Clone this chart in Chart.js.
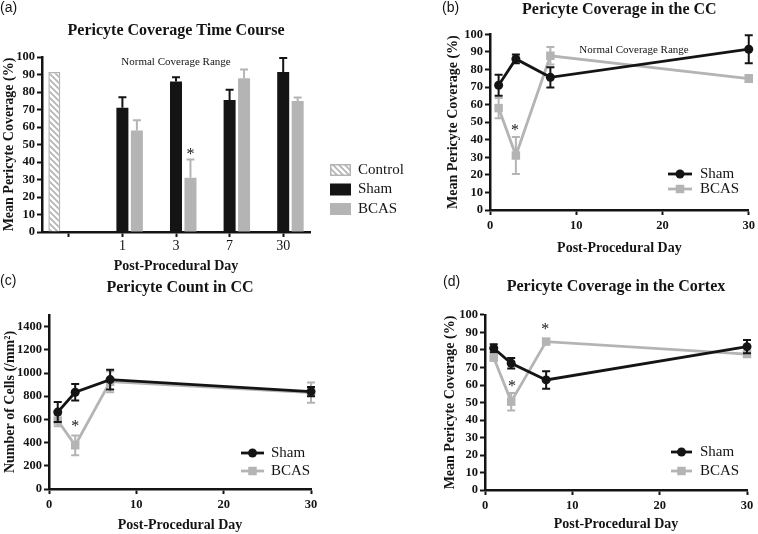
<!DOCTYPE html>
<html>
<head>
<meta charset="utf-8">
<script src="https://cdn.jsdelivr.net/npm/chart.js@4/dist/chart.umd.min.js"></script>
<style>
  html, body { margin: 0; padding: 0; background: #fff; }
  #wrap { position: relative; width: 758px; height: 534px; overflow: hidden; }
  canvas { position: absolute; }
</style>
</head>
<body>
<div id="wrap">
  <canvas id="chartA" width="440" height="275" style="left:0;top:0"></canvas>
  <canvas id="chartB" width="318" height="265" style="left:440px;top:0"></canvas>
  <canvas id="chartC" width="380" height="266" style="left:0;top:268px"></canvas>
  <canvas id="chartD" width="378" height="266" style="left:380px;top:268px"></canvas>
</div>
<script>
// data
const days = [1, 3, 7, 30];
const dayLabels = ["", "1", "3", "7", "30"];
const countTicks = [0, 200, 400, 600, 800, 1000, 1200, 1400];
const controlCoverage = 91.5;

const ccSham = [71, 86, 75.5, 91.5];
const ccShamErr = [6, 2.5, 5.8, 8];
const ccBcas = [58, 31, 87.8, 74.8];
const ccBcasErr = [5.8, 10.5, 5, 2];

const countSham = [663, 834, 943, 840];
const countShamErr = [86, 71, 86, 40];
const countBcas = [590, 377, 925, 831];
const countBcasErr = [50, 85, 90, 88];

const ctxSham = [81, 72.4, 62.9, 81.9];
const ctxShamErr = [2.3, 3, 5, 3.8];
const ctxBcas = [75.6, 50.5, 84.8, 77.7];
const ctxBcasErr = [1, 5, 1, 1];

const SERIF = '"Liberation Serif", "Times New Roman", serif';
const SANS = '"Liberation Sans", Arial, sans-serif';
const INK = "#141414";
const GREY = "#b4b4b4";

// error bars drawn under each dataset
const errorBars = {
  id: "errorBars",
  beforeDatasetDraw(chart, args) {
    const ds = chart.data.datasets[args.index];
    if (!ds.errors) return;
    const y = chart.scales.y;
    const ctx = chart.ctx;
    ctx.save();
    ctx.strokeStyle = ds.borderColor;
    ctx.lineWidth = 2;
    args.meta.data.forEach((el, i) => {
      const raw = ds.data[i];
      const e = ds.errors[i];
      if (raw == null || e == null) return;
      const v = typeof raw === "object" ? raw.y : raw;
      const top = y.getPixelForValue(v + e);
      const bot = ds.upperOnly ? y.getPixelForValue(v) : y.getPixelForValue(v - e);
      const cap = 4;
      ctx.beginPath();
      ctx.moveTo(el.x, top); ctx.lineTo(el.x, bot);
      ctx.moveTo(el.x - cap, top); ctx.lineTo(el.x + cap, top);
      if (!ds.upperOnly) { ctx.moveTo(el.x - cap, bot); ctx.lineTo(el.x + cap, bot); }
      ctx.stroke();
    });
    ctx.restore();
  }
};

// text placed in data coordinates (asterisks, range note)
const notes = {
  id: "notes",
  afterDatasetsDraw(chart, args, o) {
    const ctx = chart.ctx;
    (o.items || []).forEach(n => {
      ctx.save();
      ctx.font = n.css;
      ctx.fillStyle = INK;
      ctx.textAlign = "center";
      ctx.textBaseline = "middle";
      ctx.fillText(n.text, chart.scales.x.getPixelForValue(n.x), chart.scales.y.getPixelForValue(n.y));
      ctx.restore();
    });
  }
};

const panelLabel = {
  id: "panelLabel",
  afterDraw(chart, args, o) {
    const ctx = chart.ctx;
    ctx.save();
    ctx.font = "14px " + SANS;
    ctx.fillStyle = INK;
    ctx.textBaseline = "middle";
    ctx.fillText(o.text, o.x, o.y);
    ctx.restore();
  }
};

const keyLegend = {
  id: "keyLegend",
  afterDraw(chart, args, o) {
    const ctx = chart.ctx;
    chart.data.datasets.forEach((ds, i) => {
      const y = o.y + i * o.gap;
      ctx.save();
      if (o.kind === "box") {
        ctx.fillStyle = ds.backgroundColor;
        ctx.fillRect(o.x, y - o.h / 2, o.w, o.h);
        if (ds.borderWidth) {
          ctx.strokeStyle = ds.borderColor;
          ctx.lineWidth = ds.borderWidth;
          ctx.strokeRect(o.x + 0.75, y - o.h / 2 + 0.75, o.w - 1.5, o.h - 1.5);
        }
      } else {
        ctx.strokeStyle = ds.borderColor;
        ctx.lineWidth = ds.borderWidth;
        ctx.beginPath();
        ctx.moveTo(o.x, y); ctx.lineTo(o.x + o.w, y);
        ctx.stroke();
        ctx.fillStyle = ds.borderColor;
        const cx = o.x + o.w / 2;
        if (ds.pointStyle === "rect") {
          const s = ds.pointRadius * Math.SQRT1_2;
          ctx.fillRect(cx - s, y - s, 2 * s, 2 * s);
        } else {
          ctx.beginPath();
          ctx.arc(cx, y, ds.pointRadius, 0, Math.PI * 2);
          ctx.fill();
        }
      }
      ctx.fillStyle = INK;
      ctx.font = o.textCss;
      ctx.textBaseline = "middle";
      ctx.fillText(ds.label, o.x + o.w + o.pad, y);
      ctx.restore();
    });
  }
};

function hatch() {
  const c = document.createElement("canvas");
  c.width = 6; c.height = 6;
  const g = c.getContext("2d");
  g.fillStyle = "#fff";
  g.fillRect(0, 0, 6, 6);
  g.strokeStyle = GREY;
  g.lineWidth = 1.7;
  g.beginPath();
  g.moveTo(-1, -1); g.lineTo(7, 7);
  g.moveTo(-4, 2); g.lineTo(4, 10);
  g.moveTo(2, -4); g.lineTo(10, 4);
  g.stroke();
  return g.createPattern(c, "repeat");
}

const gridStyle = { display: true, drawOnChartArea: false, drawTicks: true, tickLength: 5, tickWidth: 2, tickColor: INK, offset: false };
const borderStyle = { display: true, width: 2.5, color: INK };
const boldTick = { family: SERIF, size: 12.5, weight: "bold" };
const axisTitleFont = { family: SERIF, size: 14, weight: "bold" };
const titleFont = { family: SERIF, size: 16, weight: "bold" };

function xDays(height, padBottom) {
  return {
    type: "linear", min: 0, max: 30,
    ticks: { stepSize: 10, font: boldTick, color: INK, padding: 3, maxRotation: 0, autoSkip: false },
    grid: gridStyle, border: borderStyle,
    title: { display: true, text: "Post-Procedural Day", font: axisTitleFont, color: INK, padding: { top: 0, bottom: padBottom } },
    afterFit(s) { s.height = height; }
  };
}

function yAxis(min, max, step, label, width, padTop) {
  return {
    min: min, max: max,
    ticks: { stepSize: step, font: boldTick, color: INK, padding: 2, autoSkip: false, callback: v => String(v) },
    grid: gridStyle, border: borderStyle,
    title: { display: true, text: label, font: axisTitleFont, color: INK, padding: { top: padTop, bottom: 0 } },
    afterFit(s) { s.width = width; }
  };
}

function lineSets(sham, shamErr, bcas, bcasErr) {
  return [
    { label: "Sham", data: days.map((d, i) => ({ x: d, y: sham[i] })), errors: shamErr,
      borderColor: INK, backgroundColor: INK, borderWidth: 2.8, pointStyle: "circle", pointRadius: 4.5,
      pointBorderWidth: 0, tension: 0, clip: false },
    { label: "BCAS", data: days.map((d, i) => ({ x: d, y: bcas[i] })), errors: bcasErr,
      borderColor: GREY, backgroundColor: GREY, borderWidth: 2.8, pointStyle: "rect", pointRadius: 6,
      pointBorderWidth: 0, tension: 0, clip: false }
  ];
}

function baseOptions(padding, title, titlePadBottom) {
  return {
    responsive: false,
    animation: false,
    layout: { padding: padding, autoPadding: false },
    plugins: {
      legend: { display: false },
      tooltip: { enabled: false },
      title: { display: true, text: title, fullSize: false, font: titleFont, color: INK, padding: { top: 0, bottom: titlePadBottom } }
    }
  };
}

const plugins = [errorBars, notes, panelLabel, keyLegend];

// (a) bar chart
const optA = baseOptions({ top: 21, left: 0, right: 130, bottom: 0 }, "Pericyte Coverage Time Course", 16.8);
optA.scales = {
  x: {
    type: "category", offset: true,
    ticks: { font: { family: SERIF, size: 14 }, color: INK, padding: 1, maxRotation: 0, autoSkip: false },
    grid: gridStyle, border: borderStyle,
    title: { display: true, text: "Post-Procedural Day", font: axisTitleFont, color: INK, padding: { top: 0, bottom: 0 } },
    afterFit(s) { s.height = 43; }
  },
  y: yAxis(0, 100, 10, "Mean Pericyte Coverage (%)", 42, 0.6)
};
optA.plugins.notes = { items: [
  { text: "Normal Coverage Range", x: 2, y: 97, css: "11px " + SERIF },
  { text: "*", x: 2.27, y: 44, css: "16px " + SERIF }
] };
optA.plugins.panelLabel = { text: "(a)", x: 0, y: 8 };
optA.plugins.keyLegend = { kind: "box", x: 330, y: 170, gap: 19.5, w: 21, h: 12, pad: 7, textCss: "15px " + SERIF };

new Chart(document.getElementById("chartA"), {
  type: "bar",
  data: {
    labels: dayLabels,
    datasets: [
      { label: "Control", data: [controlCoverage, null, null, null, null], backgroundColor: hatch(), borderColor: GREY, borderWidth: 1.5 },
      { label: "Sham", data: [null].concat(ccSham), errors: [null].concat(ccShamErr), backgroundColor: INK, borderColor: INK, borderWidth: 0, upperOnly: true },
      { label: "BCAS", data: [null].concat(ccBcas), errors: [null].concat(ccBcasErr), backgroundColor: GREY, borderColor: GREY, borderWidth: 0, upperOnly: true }
    ]
  },
  options: Object.assign(optA, { datasets: { bar: { categoryPercentage: 0.81, barPercentage: 0.83 } } }),
  plugins: plugins
});

// (b)
const optB = baseOptions({ top: 0, left: 0, right: 7, bottom: 0 }, "Pericyte Coverage in the CC", 15.1);
optB.scales = { x: xDays(55, 8.6), y: yAxis(0, 100, 10, "Mean Pericyte Coverage (%)", 50, 4.6) };
optB.plugins.notes = { items: [
  { text: "Normal Coverage Range", x: 16.7, y: 91, css: "11px " + SERIF },
  { text: "*", x: 2.9, y: 45, css: "16px " + SERIF }
] };
optB.plugins.panelLabel = { text: "(b)", x: 2, y: 8 };
optB.plugins.keyLegend = { kind: "line", x: 228, y: 174, gap: 15, w: 24, pad: 8, textCss: "15px " + SERIF };
new Chart(document.getElementById("chartB"), {
  type: "line",
  data: { datasets: lineSets(ccSham, ccShamErr, ccBcas, ccBcasErr) },
  options: optB,
  plugins: plugins
});

// (c)
const optC = baseOptions({ top: 10.4, left: 0, right: 69, bottom: 0 }, "Pericyte Count in CC", 17.4);
const yC = yAxis(0, 1500, 200, "Number of Cells (/mm\u00b2)", 49, 1.6);
yC.afterBuildTicks = s => { s.ticks = countTicks.map(v => ({ value: v })); };
optC.scales = { x: xDays(45, 0.6), y: yC };
optC.plugins.notes = { items: [ { text: "*", x: 3, y: 532, css: "16px " + SERIF } ] };
optC.plugins.panelLabel = { text: "(c)", x: 0, y: 13 };
optC.plugins.keyLegend = { kind: "line", x: 241, y: 185, gap: 18, w: 23, pad: 7, textCss: "15px " + SERIF };
new Chart(document.getElementById("chartC"), {
  type: "line",
  data: { datasets: lineSets(countSham, countShamErr, countBcas, countBcasErr) },
  options: optC,
  plugins: plugins
});

// (d)
const optD = baseOptions({ top: 9.4, left: 0, right: 11, bottom: 0 }, "Pericyte Coverage in the Cortex", 18.4);
optD.scales = { x: xDays(44, 1.6), y: yAxis(0, 100, 10, "Mean Pericyte Coverage (%)", 105, 61.6) };
optD.plugins.notes = { items: [
  { text: "*", x: 3.1, y: 59, css: "16px " + SERIF },
  { text: "*", x: 6.9, y: 91.4, css: "16px " + SERIF }
] };
optD.plugins.panelLabel = { text: "(d)", x: 63, y: 14 };
optD.plugins.keyLegend = { kind: "line", x: 291, y: 184, gap: 19, w: 21, pad: 8, textCss: "15px " + SERIF };
new Chart(document.getElementById("chartD"), {
  type: "line",
  data: { datasets: lineSets(ctxSham, ctxShamErr, ctxBcas, ctxBcasErr) },
  options: optD,
  plugins: plugins
});
</script>
</body>
</html>
